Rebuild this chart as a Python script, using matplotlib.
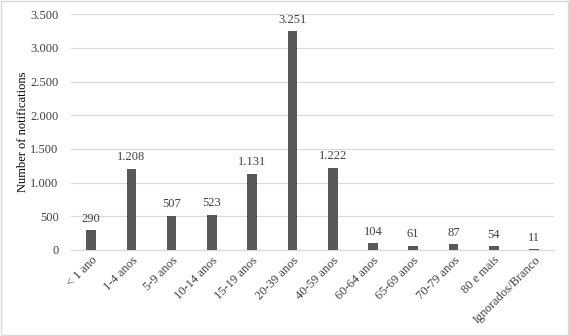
import matplotlib.pyplot as plt
from matplotlib.ticker import FuncFormatter
from matplotlib.patches import Rectangle

categories = ["< 1 ano", "1-4 anos", "5-9 anos", "10-14 anos", "15-19 anos", "20-39 anos",
              "40-59 anos", "60-64 anos", "65-69 anos", "70-79 anos", "80 e mais", "Ignorados/Branco"]
values = [290, 1208, 507, 523, 1131, 3251, 1222, 104, 61, 87, 54, 11]


def br(v, _=None):
    return f"{int(v):,}".replace(",", ".")


plt.rcParams["font.family"] = ["Liberation Serif", "DejaVu Serif"]

fig = plt.figure(figsize=(5.69, 3.36), dpi=100)
ax = fig.add_axes([0.1248, 0.256, 0.849, 0.702])
x = range(len(categories))
ax.bar(x, values, width=0.24, color="#595959", zorder=3)
for xi, v in zip(x, values):
    ax.text(xi, v + 80, br(v), ha="center", va="bottom", fontsize=9, color="#404040")

ax.set_xlim(-0.5, len(categories) - 0.5)
ax.set_ylim(0, 3500)
ax.set_yticks(range(0, 3501, 500))
ax.yaxis.set_major_formatter(FuncFormatter(br))
ax.set_xticks(list(x))
ax.set_xticklabels(categories, rotation=45, ha="right", rotation_mode="anchor", fontsize=9)
ax.tick_params(axis="y", labelsize=9, length=0, pad=9, colors="#404040")
ax.tick_params(axis="x", length=0, pad=3, colors="#404040")
ax.grid(axis="y", color="#d9d9d9", linewidth=0.8, zorder=0)
for s in ["top", "right", "left"]:
    ax.spines[s].set_visible(False)
ax.spines["bottom"].set_color("#d9d9d9")
ax.set_ylabel("Number of notifications", fontsize=9, labelpad=1)

fig.patches.append(Rectangle((0.002, 0.003), 0.996, 0.994, transform=fig.transFigure,
                             fill=False, edgecolor="#d9d9d9", linewidth=1))

fig.savefig("out.png", dpi=100)
